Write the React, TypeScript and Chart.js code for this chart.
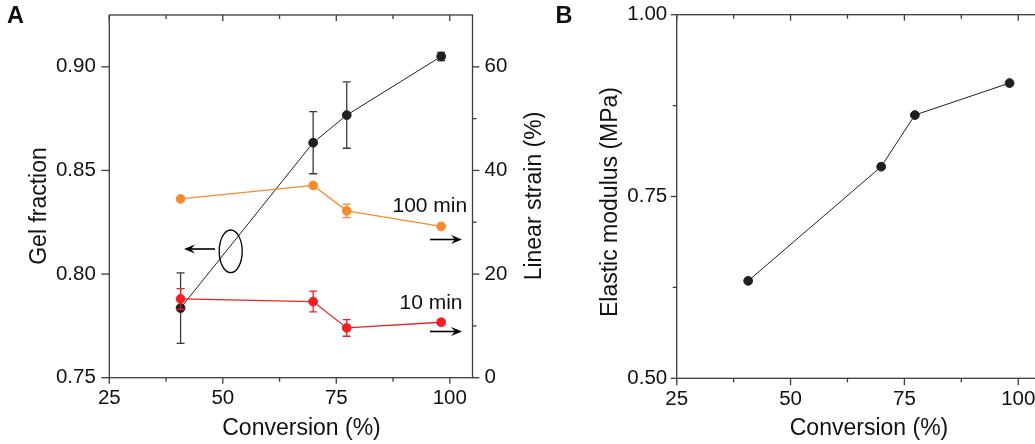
import React, { useEffect, useRef } from 'react';
import { Chart, registerables } from 'chart.js';

Chart.register(...registerables);

const FONT = '"Liberation Sans", Arial, Helvetica, sans-serif';

// ---- data ----
const conversion = [40.7, 69.9, 77.3, 98.1];
const gelFraction = [0.7836, 0.8634, 0.8767, 0.905];
const gelFractionErr = [0.017, 0.015, 0.016, 0.002];
const strain100min = [34.5, 37.1, 32.2, 29.2];
const strain100minErr = [0, 0, 1.3, 0];
const strain10min = [15.2, 14.7, 9.6, 10.7];
const strain10minErr = [2.0, 2.0, 1.6, 0.5];
const elasticModulus = [0.634, 0.791, 0.862, 0.906];

const conversionTicks = [25, 50, 75, 100];
const conversionMinor = [37.5, 62.5, 87.5];
const gelTicks = [0.75, 0.8, 0.85, 0.9];
const strainTicks = [0, 20, 40, 60];
const strainMinor = [10, 30, 50];
const modulusTicks = [0.5, 0.75, 1.0];
const modulusMinor = [0.625, 0.875];

const BLACK = '#231f20';
const ORANGE = '#f68b2c';
const RED = '#ed2024';
const AXIS = '#3c3c3c';

// ---- plugins ----
const errorBarPlugin = {
  id: 'errorBars',
  beforeDatasetDraw(chart: any, args: any) {
    const ds = chart.data.datasets[args.index];
    const errs: number[] | undefined = ds.errors;
    if (!errs) return;
    const meta = args.meta;
    const yScale = chart.scales[meta.yAxisID];
    const ctx = chart.ctx;
    ctx.save();
    ctx.strokeStyle = ds.errorColor || ds.borderColor;
    ctx.lineWidth = 1.3;
    meta.data.forEach((pt: any, i: number) => {
      const e = errs[i];
      if (!e) return;
      const v = ds.data[i].y;
      const yT = yScale.getPixelForValue(v + e);
      const yB = yScale.getPixelForValue(v - e);
      const x = pt.x;
      ctx.beginPath();
      ctx.moveTo(x, yT);
      ctx.lineTo(x, yB);
      ctx.moveTo(x - 4, yT);
      ctx.lineTo(x + 4, yT);
      ctx.moveTo(x - 4, yB);
      ctx.lineTo(x + 4, yB);
      ctx.stroke();
    });
    ctx.restore();
  },
};

const framePlugin = {
  id: 'frame',
  beforeDatasetsDraw(chart: any, _args: any, opts: any) {
    const { left, right, top, bottom } = chart.chartArea;
    const ctx = chart.ctx;
    ctx.save();
    ctx.strokeStyle = AXIS;
    ctx.lineWidth = 1.3;
    ctx.strokeRect(left, top, right - left, bottom - top);
    for (const t of opts.ticks || []) {
      const sc = chart.scales[t.scale];
      for (const v of t.values) {
        const p = sc.getPixelForValue(v);
        ctx.beginPath();
        if (t.side === 'bottom') { ctx.moveTo(p, bottom); ctx.lineTo(p, bottom + t.len); }
        if (t.side === 'top') { ctx.moveTo(p, top); ctx.lineTo(p, top - t.len); }
        if (t.side === 'left') { ctx.moveTo(left, p); ctx.lineTo(left - t.len, p); }
        if (t.side === 'right') { ctx.moveTo(right, p); ctx.lineTo(right + t.len, p); }
        ctx.stroke();
      }
    }
    ctx.restore();
  },
};

const textPlugin = {
  id: 'texts',
  afterDraw(chart: any, _args: any, opts: any) {
    const ctx = chart.ctx;
    ctx.save();
    ctx.fillStyle = '#111';
    for (const t of opts.items || []) {
      ctx.font = `${t.bold ? 'bold ' : ''}${t.size}px ${FONT}`;
      ctx.textAlign = t.align || 'center';
      ctx.textBaseline = 'alphabetic';
      ctx.save();
      ctx.translate(t.x, t.y);
      if (t.rotate) ctx.rotate(-Math.PI / 2);
      ctx.fillText(t.text, 0, 0);
      ctx.restore();
    }
    ctx.restore();
  },
};

function drawArrow(ctx: CanvasRenderingContext2D, x1: number, x2: number, y: number) {
  const dir = Math.sign(x2 - x1);
  ctx.beginPath();
  ctx.moveTo(x1, y);
  ctx.lineTo(x2 - dir * 6, y);
  ctx.stroke();
  ctx.beginPath();
  ctx.moveTo(x2, y);
  ctx.lineTo(x2 - dir * 11, y - 4.5);
  ctx.lineTo(x2 - dir * 7, y);
  ctx.lineTo(x2 - dir * 11, y + 4.5);
  ctx.closePath();
  ctx.fill();
}

const annotationPlugin = {
  id: 'annot',
  afterDatasetsDraw(chart: any) {
    const ctx = chart.ctx;
    ctx.save();
    ctx.strokeStyle = '#000';
    ctx.fillStyle = '#000';
    ctx.lineWidth = 1.6;
    drawArrow(ctx, 430, 462, 239.5);
    drawArrow(ctx, 430, 462, 331.5);
    drawArrow(ctx, 215, 184, 249);
    ctx.lineWidth = 1.3;
    ctx.beginPath();
    ctx.ellipse(230.7, 251.3, 11.5, 21.3, 0, 0, Math.PI * 2);
    ctx.stroke();
    ctx.font = `21px ${FONT}`;
    ctx.fillStyle = '#111';
    ctx.textAlign = 'left';
    ctx.textBaseline = 'alphabetic';
    ctx.fillText('100 min', 392.5, 211.5);
    ctx.fillText('10 min', 399.5, 308.5);
    ctx.restore();
  },
};

const tickFont = { family: FONT, size: 20.5 };

function fixedTicks(values: number[]) {
  return (s: any) => {
    s.ticks = values.map((v) => ({ value: v }));
  };
}

function fitV(width: number) {
  return (s: any) => {
    s.width = width;
    s.paddingTop = 0;
    s.paddingBottom = 0;
  };
}

function fitH(height: number) {
  return (s: any) => {
    s.height = height;
    s.paddingLeft = 0;
    s.paddingRight = 0;
  };
}

function pts(ys: number[]) {
  return conversion.map((x, i) => ({ x, y: ys[i] }));
}

function lineDs(label: string, ys: number[], color: string, yAxisID: string, order: number, width: number, errs?: number[], errColor?: string) {
  return {
    label,
    data: pts(ys),
    yAxisID,
    showLine: true,
    borderColor: color,
    backgroundColor: color,
    borderWidth: width,
    pointRadius: 4.4,
    pointBorderWidth: 1,
    pointBorderColor: color,
    pointBackgroundColor: color,
    order,
    errors: errs,
    errorColor: errColor,
  } as any;
}

function PanelA() {
  const ref = useRef<HTMLCanvasElement>(null);
  useEffect(() => {
    const chart = new Chart(ref.current!, {
      type: 'scatter',
      data: {
        datasets: [
          lineDs('Gel fraction', gelFraction, BLACK, 'y', 3, 1, gelFractionErr, '#3a3a3a'),
          lineDs('100 min', strain100min, ORANGE, 'y1', 2, 1.3, strain100minErr, ORANGE),
          lineDs('10 min', strain10min, RED, 'y1', 1, 1.3, strain10minErr, RED),
        ],
      },
      options: {
        animation: false,
        responsive: false,
        devicePixelRatio: 1,
        layout: { padding: { top: 15, left: 0, right: 0, bottom: 0 } },
        plugins: {
          legend: { display: false },
          tooltip: { enabled: false },
          frame: {
            ticks: [
              { scale: 'x', side: 'bottom', values: conversionTicks, len: 6 },
              { scale: 'x', side: 'bottom', values: conversionMinor, len: 4 },
              { scale: 'x', side: 'top', values: conversionTicks, len: -6 },
              { scale: 'x', side: 'top', values: conversionMinor, len: -4 },
              { scale: 'y', side: 'left', values: gelTicks, len: 8 },
              { scale: 'y1', side: 'right', values: strainTicks, len: 7 },
              { scale: 'y1', side: 'right', values: strainMinor, len: 4 },
            ],
          },
          texts: {
            items: [
              { text: 'A', x: 7, y: 23, size: 23.5, bold: true, align: 'left' },
              { text: 'Gel fraction', x: 45.5, y: 206, size: 23, rotate: true },
              { text: 'Linear strain (%)', x: 540.5, y: 196, size: 23, rotate: true },
              { text: 'Conversion (%)', x: 301.5, y: 435, size: 23 },
            ],
          },
        } as any,
        scales: {
          x: {
            type: 'linear',
            position: 'bottom',
            min: 25,
            max: 105,
            afterBuildTicks: fixedTicks(conversionTicks),
            afterFit: fitH(66.3),
            grid: { display: false, drawTicks: false },
            border: { display: false },
            ticks: { font: tickFont, color: '#111', padding: 8.5, maxRotation: 0, autoSkip: false, callback: (v: any) => String(v) },
          },
          y: {
            type: 'linear',
            position: 'left',
            min: 0.75,
            max: 0.925,
            afterBuildTicks: fixedTicks(gelTicks),
            afterFit: fitV(109.3),
            grid: { display: false, drawTicks: false },
            border: { display: false },
            ticks: { font: tickFont, color: '#111', padding: 13.5, autoSkip: false, callback: (v: any) => Number(v).toFixed(2) },
          },
          y1: {
            type: 'linear',
            position: 'right',
            min: 0,
            max: 70,
            afterBuildTicks: fixedTicks(strainTicks),
            afterFit: fitV(545 - 472.5),
            grid: { display: false, drawTicks: false },
            border: { display: false },
            ticks: { font: tickFont, color: '#111', padding: 12, autoSkip: false, callback: (v: any) => String(v) },
          },
        },
      },
      plugins: [errorBarPlugin, framePlugin, textPlugin, annotationPlugin],
    } as any);
    return () => chart.destroy();
  }, []);
  return <canvas ref={ref} width={545} height={444} style={{ position: 'absolute', left: 0, top: 0 }} />;
}

function PanelB() {
  const ref = useRef<HTMLCanvasElement>(null);
  useEffect(() => {
    const chart = new Chart(ref.current!, {
      type: 'scatter',
      data: {
        datasets: [lineDs('Elastic modulus', elasticModulus, BLACK, 'y', 1, 1)],
      },
      options: {
        animation: false,
        responsive: false,
        devicePixelRatio: 1,
        layout: { padding: { top: 14.7, left: 0, right: 24, bottom: 0 } },
        plugins: {
          legend: { display: false },
          tooltip: { enabled: false },
          frame: {
            ticks: [
              { scale: 'x', side: 'bottom', values: conversionTicks, len: 7 },
              { scale: 'x', side: 'bottom', values: conversionMinor, len: 4 },
              { scale: 'x', side: 'top', values: conversionTicks, len: -6 },
              { scale: 'x', side: 'top', values: conversionMinor, len: -4 },
              { scale: 'y', side: 'left', values: modulusTicks, len: 6 },
              { scale: 'y', side: 'left', values: modulusMinor, len: 4 },
              { scale: 'y', side: 'right', values: modulusTicks, len: -6 },
              { scale: 'y', side: 'right', values: modulusMinor, len: -4 },
            ],
          },
          texts: {
            items: [
              { text: 'B', x: 10.5, y: 23, size: 23.5, bold: true, align: 'left' },
              { text: 'Elastic modulus (MPa)', x: 71.7, y: 202, size: 23, rotate: true },
              { text: 'Conversion (%)', x: 324, y: 435, size: 23 },
            ],
          },
        } as any,
        scales: {
          x: {
            type: 'linear',
            position: 'bottom',
            min: 25,
            max: 105,
            afterBuildTicks: fixedTicks(conversionTicks),
            afterFit: fitH(65.7),
            grid: { display: false, drawTicks: false },
            border: { display: false },
            ticks: { font: tickFont, color: '#111', padding: 8.5, maxRotation: 0, autoSkip: false, callback: (v: any) => String(v) },
          },
          y: {
            type: 'linear',
            position: 'left',
            min: 0.5,
            max: 1.0,
            afterBuildTicks: fixedTicks(modulusTicks),
            afterFit: fitV(131.7),
            grid: { display: false, drawTicks: false },
            border: { display: false },
            ticks: { font: tickFont, color: '#111', padding: 9.5, autoSkip: false, callback: (v: any) => Number(v).toFixed(2) },
          },
        },
      },
      plugins: [errorBarPlugin, framePlugin, textPlugin],
    } as any);
    return () => chart.destroy();
  }, []);
  return <canvas ref={ref} width={520} height={444} style={{ position: 'absolute', left: 545, top: 0 }} />;
}

export default function App() {
  return (
    <div style={{ position: 'fixed', left: 0, top: 0, width: 1035, height: 444, overflow: 'hidden', background: '#fff' }}>
      <PanelA />
      <PanelB />
    </div>
  );
}
